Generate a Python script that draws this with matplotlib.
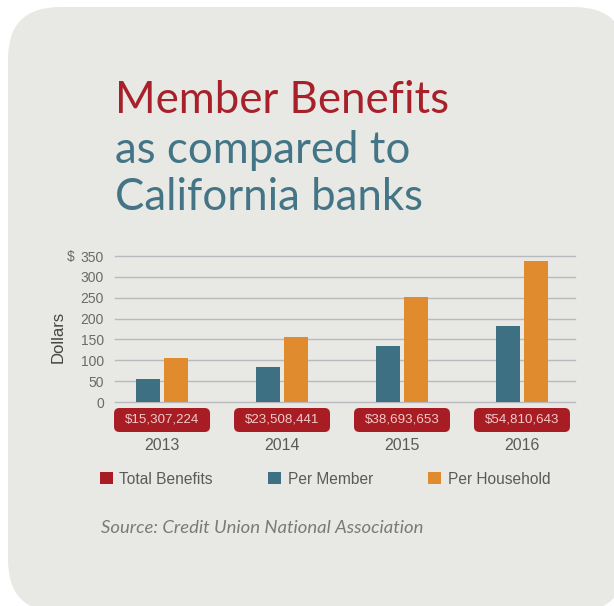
import matplotlib
matplotlib.use("Agg")
import matplotlib.pyplot as plt
from matplotlib.patches import FancyBboxPatch, Patch
from matplotlib.transforms import IdentityTransform, blended_transform_factory

# data
years = ["2013", "2014", "2015", "2016"]
total_benefits = ["$15,307,224", "$23,508,441", "$38,693,653", "$54,810,643"]
per_member = [55, 84, 134, 182]
per_household = [105, 156, 252, 338]
y_ticks = [0, 50, 100, 150, 200, 250, 300, 350]

RED = "#A81C24"
TEAL = "#3D7082"
ORANGE = "#E08C2E"
CARD = "#E8E8E4"
GRID = "#B9B9BE"
GREY = "#5A5A5A"

W, H = 614, 606
fig = plt.figure(figsize=(W / 100, H / 100), dpi=100)
fig.patch.set_facecolor("white")

# rounded grey card behind everything (pixel coords)
card = FancyBboxPatch((8, -6), 618, 605, boxstyle="round,pad=0,rounding_size=52",
                      transform=IdentityTransform(), facecolor=CARD, edgecolor="none", zorder=-5)
fig.patches.append(card)

# title, three lines
title_font = "Lato"
fig.text(115 / W, 1 - 113 / H, "Member Benefits", color="#A8202A", fontsize=31.5,
         family=title_font, va="baseline", ha="left")
fig.text(115 / W, 1 - 163 / H, "as compared to", color="#437586", fontsize=31.5,
         family=title_font, va="baseline", ha="left")
fig.text(115 / W, 1 - 210 / H, "California banks", color="#437586", fontsize=31.5,
         family=title_font, va="baseline", ha="left")

# plot area: x 115..575 px, y 256..402 px
ax = fig.add_axes([115 / W, 1 - 402 / H, 460 / W, 146 / H])
ax.set_facecolor("none")
x = list(range(len(years)))
bw = 0.2
off = 14 / 120
ax.bar([i - off for i in x], per_member, width=bw, color=TEAL, zorder=3)
ax.bar([i + off for i in x], per_household, width=bw, color=ORANGE, zorder=3)

ax.set_xlim(-0.392, 3.442)
ax.set_ylim(0, 350)
ax.set_xticks([])
ax.set_yticks(y_ticks)
ax.set_yticklabels([str(t) for t in y_ticks], family="Liberation Sans", fontsize=10, color="#6A6A6A")
ax.tick_params(axis="y", length=0, pad=8)
for s in ax.spines.values():
    s.set_visible(False)
for t in y_ticks:
    ax.axhline(t, color=GRID, lw=1, zorder=1, clip_on=False)

bt = blended_transform_factory(ax.transAxes, ax.transData)
ax.text(-0.104, 350, "$", transform=bt, ha="left", va="center_baseline",
        family="Liberation Sans", fontsize=10, color="#6A6A6A")
ax.text(-0.124, 0.445, "Dollars", transform=ax.transAxes, rotation=90, ha="center", va="center",
        family="Liberation Sans", fontsize=12, color="#444444")

# red total-benefit tags + year labels under each group
ypx = 350 / 146  # data units per pixel on y
for i, (yr, tb) in enumerate(zip(years, total_benefits)):
    tag = FancyBboxPatch((i - 0.4, -30 * ypx), 0.8, 24 * ypx,
                         boxstyle="round,pad=0,rounding_size=0.045",
                         mutation_aspect=ypx * 120, facecolor=RED, edgecolor="none",
                         clip_on=False, zorder=4)
    ax.add_patch(tag)
    ax.text(i, -18 * ypx, tb, ha="center", va="center", family="Liberation Sans",
            fontsize=9.6, color="#F2CACA", zorder=5, clip_on=False)
    ax.text(i, -44 * ypx, yr, ha="center", va="center", family="Liberation Sans",
            fontsize=11.5, color=GREY, clip_on=False)

# legend
handles = [Patch(facecolor=RED, label="Total Benefits"),
           Patch(facecolor=TEAL, label="Per Member"),
           Patch(facecolor=ORANGE, label="Per Household")]
fig.legend(handles=handles, loc="center left", bbox_to_anchor=(100 / W, 1 - 479 / H),
           ncol=3, frameon=False, borderpad=0, borderaxespad=0,
           handlelength=0.85, handleheight=0.85, handletextpad=0.4, columnspacing=3.55,
           prop={"family": "Liberation Sans", "size": 11.2}, labelcolor=GREY)

fig.text(101 / W, 1 - 528 / H, "Source: Credit Union National Association", color="#7A7A7A",
         fontsize=13.3, family="Lato", style="italic", va="center", ha="left")

fig.savefig("out.png", dpi=100)
